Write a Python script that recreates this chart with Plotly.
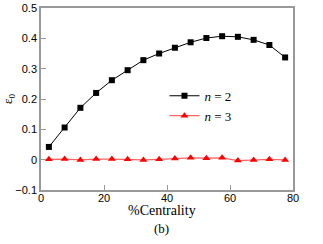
import plotly.graph_objects as go

centrality = [2.5, 7.5, 12.5, 17.5, 22.5, 27.5, 32.5, 37.5, 42.5, 47.5, 52.5, 57.5, 62.5, 67.5, 72.5, 77.5]
eps_n2 = [0.042, 0.106, 0.171, 0.220, 0.262, 0.295, 0.328, 0.350, 0.369, 0.387, 0.401, 0.407, 0.405, 0.395, 0.378, 0.337]
eps_n3 = [0.001, 0.002, -0.001, 0.002, 0.002, 0.001, -0.001, 0.001, 0.004, 0.006, 0.005, 0.006, -0.003, -0.001, 0.001, -0.001]

fig = go.Figure()
fig.add_trace(go.Scatter(x=centrality, y=eps_n2, mode="lines+markers", name="<i>n</i> = 2",
                         line=dict(color="black", width=1),
                         marker=dict(symbol="square", size=6, color="black")))
fig.add_trace(go.Scatter(x=centrality, y=eps_n3, mode="lines+markers", name="<i>n</i> = 3",
                         line=dict(color="rgba(255,60,60,0.8)", width=1.2),
                         marker=dict(symbol="triangle-up", size=7, color="red")))

axis_common = dict(showgrid=False, zeroline=False, showline=True, linecolor="#999999", linewidth=1.5,
                   mirror=True, ticks="inside", ticklen=5, tickcolor="#999999", automargin=False,
                   tickfont=dict(family="Liberation Sans, Arial, sans-serif", size=11, color="black"))

fig.update_xaxes(range=[0, 80], tickvals=[0, 20, 40, 60, 80], ticklabelstandoff=-3, **axis_common)
fig.update_yaxes(range=[-0.1, 0.5], tickvals=[-0.1, 0, 0.1, 0.2, 0.3, 0.4, 0.5],
                 ticktext=["\u22120.1", "0", "0.1", "0.2", "0.3", "0.4", "0.5"],
                 title=dict(text="\u03b5<sub>0</sub>", font=dict(family="Liberation Serif, serif", size=13, color="black")),
                 **axis_common)

serif = "Liberation Serif, Times New Roman, serif"
fig.add_annotation(text="%Centrality", xref="paper", yref="paper", x=0.48, y=-0.115, yanchor="middle",
                   showarrow=False, font=dict(family=serif, size=14, color="black"))
fig.add_annotation(text="(b)", xref="paper", yref="paper", x=0.48, y=-0.21, yanchor="middle", showarrow=False,
                   font=dict(family=serif, size=13, color="black"))

fig.update_layout(width=323, height=244, margin=dict(l=41, r=30, t=8, b=54, autoexpand=False),
                  plot_bgcolor="white", paper_bgcolor="white",
                  legend=dict(x=0.49, y=0.6, xanchor="left", yanchor="top", bgcolor="rgba(0,0,0,0)",
                              font=dict(family=serif, size=13, color="black"),
                              tracegroupgap=2, itemwidth=30),
                  showlegend=True)

fig.write_html("out.html", config={"displayModeBar": False},
               post_script="document.body.style.margin='0';")
